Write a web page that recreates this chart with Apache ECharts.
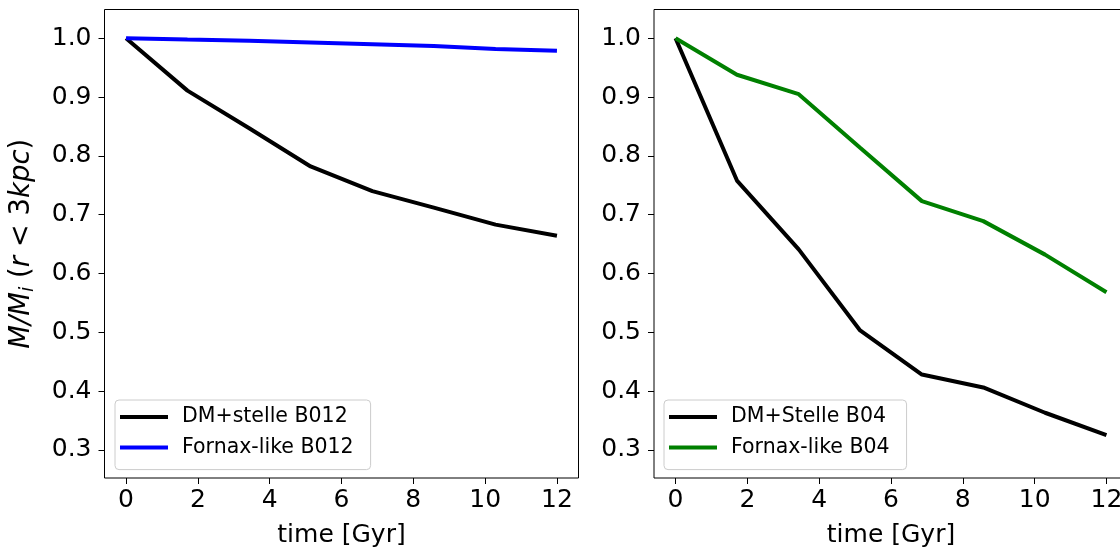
<!DOCTYPE html>
<html><head><meta charset="utf-8">
<script src="https://cdn.jsdelivr.net/npm/echarts@6/dist/echarts.min.js"></script>
<style>html,body{margin:0;padding:0;background:#fff;overflow:hidden;width:1120px;height:553px}#c{width:1130px;height:553px}</style>
</head><body><div id="c"></div>
<script>
const time = [0, 1.71, 3.43, 5.14, 6.86, 8.57, 10.29, 12];
const dmB012 = [1.0, 0.911, 0.847, 0.782, 0.740, 0.712, 0.683, 0.664];
const fornaxB012 = [1.0, 0.998, 0.996, 0.993, 0.990, 0.987, 0.982, 0.979];
const dmB04 = [1.0, 0.758, 0.641, 0.503, 0.428, 0.406, 0.363, 0.325];
const fornaxB04 = [1.0, 0.938, 0.905, 0.814, 0.723, 0.689, 0.632, 0.568];
const xTicks = [0, 2, 4, 6, 8, 10, 12];
const yTicks = [0.3, 0.4, 0.5, 0.6, 0.7, 0.8, 0.9, 1.0];
const names = ['DM+stelle B012', 'Fornax-like B012', 'DM+Stelle B04', 'Fornax-like B04'];

const FONT = 'DejaVu Sans';
const pair = (xs, ys) => xs.map((x, i) => [x, ys[i]]);

function xAxis(idx) {
  return {
    type: 'value', gridIndex: idx, min: -0.6, max: 12.6,
    name: 'time [Gyr]', nameLocation: 'middle', nameGap: 45,
    nameTextStyle: { fontFamily: FONT, fontSize: 25, color: '#000' },
    axisLine: { show: false, onZero: false },
    splitLine: { show: false },
    axisTick: { show: true, length: 6, lineStyle: { color: '#000', width: 1 }, customValues: xTicks },
    axisLabel: { fontFamily: FONT, fontSize: 25, color: '#000', margin: 10, customValues: xTicks,
      formatter: v => String(Math.round(v)) }
  };
}
function yAxis(idx, withName) {
  const a = {
    type: 'value', gridIndex: idx, min: 0.252, max: 1.049,
    axisLine: { show: false, onZero: false },
    splitLine: { show: false },
    axisTick: { show: true, length: 6, lineStyle: { color: '#000', width: 1 }, customValues: yTicks },
    axisLabel: { fontFamily: FONT, fontSize: 25, color: '#000', margin: 13, customValues: yTicks,
      formatter: v => v.toFixed(1) }
  };
  if (withName) {
    a.name = '{it|M/M}{sub|i}{n| (}{it|r}{n| < 3}{it|kpc}{n|)}';
    a.nameLocation = 'middle';
    a.nameGap = 67;
    a.nameTextStyle = {
      fontFamily: FONT, fontSize: 27.5, color: '#000',
      rich: {
        it: { fontFamily: FONT, fontSize: 27.5, fontStyle: 'italic', color: '#000', lineHeight: 32 },
        n: { fontFamily: FONT, fontSize: 27.5, color: '#000', lineHeight: 32 },
        sub: { fontFamily: FONT, fontSize: 19, fontStyle: 'italic', color: '#000', lineHeight: 32, verticalAlign: 'bottom' }
      }
    };
  }
  return a;
}
function legend(left, data) {
  return {
    orient: 'vertical', left: left, top: 400,
    data: data.map(n => ({ name: n, icon: 'rect' })),
    itemWidth: 48, itemHeight: 4, itemGap: 8.6,
    padding: [6, 17, 11, 5],
    backgroundColor: 'rgba(255,255,255,0.8)',
    borderColor: '#cccccc', borderWidth: 1, borderRadius: 4,
    textStyle: { fontFamily: FONT, fontSize: 20.5, color: '#000', lineHeight: 22, padding: [0, 0, 0, 9] }
  };
}
function line(name, xi, data, color) {
  return {
    type: 'line', name: name, xAxisIndex: xi, yAxisIndex: xi,
    data: data, showSymbol: false, symbol: 'none', smooth: false,
    lineStyle: { color: color, width: 4 }, itemStyle: { color: color },
    clip: true, animation: false
  };
}

const chart = echarts.init(document.getElementById('c'));
chart.setOption({
  animation: false,
  backgroundColor: '#fff',
  grid: [
    { left: 104.5, top: 9.5, width: 474, height: 469.5, show: true, borderColor: '#000', borderWidth: 1, backgroundColor: 'transparent' },
    { left: 654, top: 9.5, width: 474, height: 469.5, show: true, borderColor: '#000', borderWidth: 1, backgroundColor: 'transparent' }
  ],
  xAxis: [xAxis(0), xAxis(1)],
  yAxis: [yAxis(0, true), yAxis(1, false)],
  legend: [legend(115, [names[0], names[1]]), legend(664, [names[2], names[3]])],
  series: [
    line(names[0], 0, pair(time, dmB012), '#000000'),
    line(names[1], 0, pair(time, fornaxB012), '#0000ff'),
    line(names[2], 1, pair(time, dmB04), '#000000'),
    line(names[3], 1, pair(time, fornaxB04), '#008000')
  ]
});
</script></body></html>
